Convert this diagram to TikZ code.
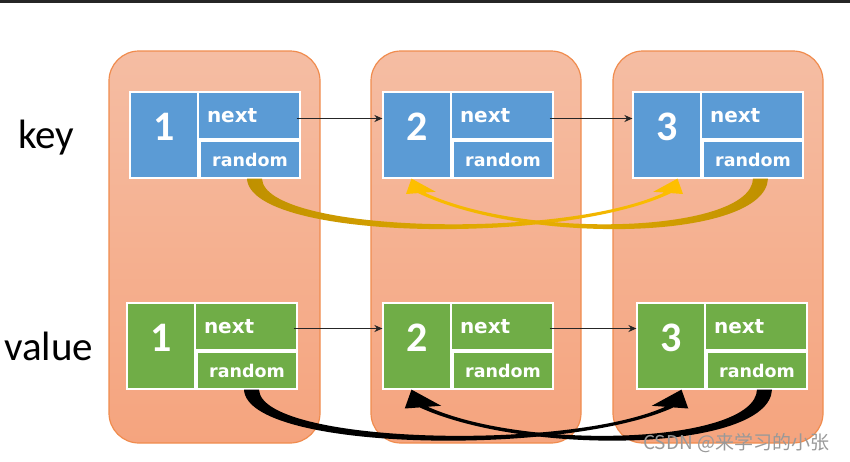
\documentclass[tikz,border=0pt]{standalone}
\usepackage{fontspec}
\setmainfont{Carlito}
\newfontfamily\boxfont{DejaVu Sans}
\newfontfamily\markfont{Noto Sans CJK SC}
\usetikzlibrary{calc,arrows.meta}

\definecolor{keyblue}{HTML}{5B9BD5}
\definecolor{valgreen}{HTML}{70AD47}
\definecolor{colline}{HTML}{F08C4E}
\definecolor{coltop}{HTML}{F5BDA3}
\definecolor{colbot}{HTML}{F5A47E}
\definecolor{golddark}{HTML}{BF9000}
\definecolor{goldlight}{HTML}{FFC000}

\tikzset{
  column/.style={draw=colline, line width=1.2pt, rounded corners=30pt,
    top color=coltop, bottom color=colbot,
    minimum width=210pt, minimum height=392pt, inner sep=0pt},
  cell/.style={draw=white, line width=1.2pt, inner sep=0pt, text=white},
  numcell/.style={cell, minimum width=68pt, minimum height=86pt,
    font=\bfseries\fontsize{42}{42}\selectfont, text height=28pt, text depth=18pt},
  nextcell/.style={cell, minimum width=102pt, minimum height=47pt,
    font=\boxfont\bfseries\fontsize{20}{20}\selectfont,
    text width=84pt, align=left, inner xsep=9pt},
  randcell/.style={cell, minimum width=100pt, minimum height=37pt,
    font=\boxfont\bfseries\fontsize{17.5}{18}\selectfont},
  nextarrow/.style={draw=black!85, line width=1.4pt, -{Stealth[length=8pt,width=7pt]}},
  rowname/.style={anchor=base west, inner sep=0pt, font=\fontsize{41}{41}\selectfont}
}

% one entry: name, x, y (top left corner), digit, colour
\newcommand{\drawentry}[5]{
  \node[numcell, fill=#5] (num#1) at (#2+34,#3+43) {#4};
  \node[nextcell, fill=#5] (next#1) at (#2+119,#3+23.5) {next};
  \node[randcell, fill=#5] (rand#1) at (#2+120,#3+67.5) {random};
}

% tapered random pointer: from, to, direction (1 or -1), head size, fill
\newcommand{\drawjump}[5]{
  \path[#5] ($(#1)+({#3*(-3)},0)$)
      .. controls ($(#1)+(0,62)$) and ($(#2)+({#3*(-106)},67)$) .. ($(#2)+({#3*(10.5-6*#4)},{13.2*#4})$)
      -- ($(#2)+({#3*(10.5+5*#4)},{14*#4})$) -- ($(#2)+({#3*10.5},0)$)
      -- ($(#2)+({#3*(10.5-22*#4)},{12*#4})$) -- ($(#2)+({#3*(10.5-12*#4)},{12.7*#4})$)
      .. controls ($(#2)+({#3*(-106)},62)$) and ($(#1)+({#3*14},54)$) .. ($(#1)+({#3*12},0)$)
      -- cycle;
}

\begin{document}
\begin{tikzpicture}[x=1pt,y=-1pt]
\useasboundingbox (0,0) rectangle (850,461);
\fill[black!85] (0,0) rectangle (850,2.5);

\node[column, minimum width=211pt] (colone) at (214.5,247) {};
\node[column] (coltwo) at (476,247) {};
\node[column] (colthree) at (718,247) {};

\node[rowname] (keylabel) at (18,148) {key};
\node[rowname] (valuelabel) at (4,360) {value};

\drawentry{1k}{130}{92}{1}{keyblue}
\drawentry{2k}{383}{92}{2}{keyblue}
\drawentry{3k}{633}{92}{3}{keyblue}
\drawentry{1v}{127}{303}{1}{valgreen}
\drawentry{2v}{383}{303}{2}{valgreen}
\drawentry{3v}{637}{303}{3}{valgreen}

% next pointers
\draw[nextarrow] ($(next1k.east)+(-4,3)$) -- ($(next1k.east -| num2k.west)+(0,3)$);
\draw[nextarrow] ($(next2k.east)+(-4,3)$) -- ($(next2k.east -| num3k.west)+(0,3)$);
\draw[nextarrow] ($(next1v.east)+(-4,2)$) -- ($(next1v.east -| num2v.west)+(0,2)$);
\draw[nextarrow] ($(next2v.east)+(-4,2)$) -- ($(next2v.east -| num3v.west)+(0,2)$);

% random pointers
\coordinate (jump3k) at ([xshift=12pt]rand3k.south);
\coordinate (land2k) at ([xshift=5pt]num2k.south);
\coordinate (jump3v) at ([xshift=12pt]rand3v.south);
\coordinate (land2v) at ([xshift=5pt]num2v.south);
\drawjump{rand1k.south}{num3k.south}{1}{1.1}{left color=golddark, right color=goldlight}
\drawjump{jump3k}{land2k}{-1}{1.1}{left color=goldlight, right color=golddark}
\drawjump{rand1v.south}{num3v.south}{1}{1.35}{fill=black}
\drawjump{jump3v}{land2v}{-1}{1.35}{fill=black}

\node[anchor=base west, inner sep=0pt, text=black!40,
  font=\markfont\fontsize{19}{19}\selectfont] (mark) at (643,449) {CSDN @来学习的小张};
\end{tikzpicture}
\end{document}
